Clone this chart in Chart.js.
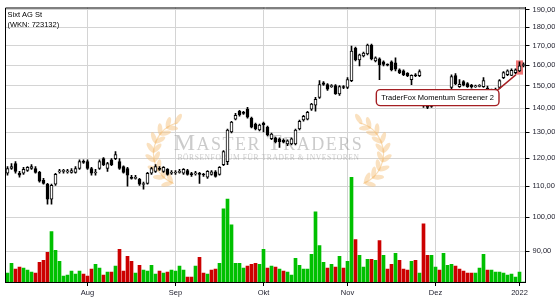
<!DOCTYPE html>
<html>
<head>
<meta charset="utf-8">
<script src="https://cdn.jsdelivr.net/npm/chart.js@4.4.1/dist/chart.umd.min.js"></script>
<style>
  html, body { margin: 0; padding: 0; background: #fff; }
  #wrap { width: 555px; height: 300px; position: relative; }
</style>
</head>
<body>
<div id="wrap"><canvas id="kursChart"></canvas></div>
<script>
// Handelstage ab 05.07.2021 (Xetra, ohne 24.12. und 31.12.)
const startDate = '2021-07-05';
const holidays = ['2021-12-24', '2021-12-31'];
const monthNames = ['Jan', 'Feb', 'Mär', 'Apr', 'Mai', 'Jun', 'Jul', 'Aug', 'Sep', 'Okt', 'Nov', 'Dez'];
const priceTicks = [90, 100, 110, 120, 130, 140, 150, 160, 170, 180, 190];

const opens = [
  114.5, 116.2, 118.0, 114.5, 114.5, 115.5, 116.2, 116.2, 114.8, 112.0,
  110.7, 105.7, 110.7, 115.0, 115.2, 115.0, 114.8, 114.8, 116.2, 118.8,
  118.7, 116.2, 114.6, 116.2, 119.8, 116.2, 119.4, 119.8, 118.7, 116.9,
  116.2, 113.1, 112.7, 112.4, 110.6, 111.0, 114.5, 115.2, 116.2, 115.2,
  115.9, 114.5, 114.6, 114.8, 114.5, 115.5, 114.1, 114.3, 114.3, 114.1,
  113.1, 114.1, 115.0, 114.1, 117.6, 118.7, 130.1, 135.4, 138.7, 138.3,
  139.6, 135.8, 133.3, 130.9, 133.7, 132.1, 127.4, 127.8, 127.4, 126.8,
  125.4, 125.4, 125.4, 131.3, 135.0, 135.4, 139.6, 141.4, 144.8, 151.5,
  150.6, 149.7, 150.2, 146.3, 149.5, 149.3, 152.5, 168.7, 162.6, 164.6,
  165.6, 170.2, 162.1, 163.1, 161.6, 160.3, 161.6, 161.1, 157.7, 157.2,
  156.0, 153.0, 155.0, 154.9, 146.1, 142.6, 140.8, 142.6, 144.3, 143.9,
  147.0, 149.3, 154.9, 149.7, 152.0, 151.1, 150.4, 149.6, 149.8, 149.7,
  149.0, 147.5, 148.0, 149.3, 153.9, 155.3, 155.0, 156.3, 157.2, 159.8
];
const highs = [
  116.9, 118.0, 118.7, 115.2, 116.6, 116.9, 117.6, 116.9, 115.2, 112.7,
  111.0, 110.7, 114.5, 115.9, 115.9, 115.9, 116.2, 116.9, 119.4, 119.4,
  119.4, 116.6, 115.9, 119.4, 120.2, 118.4, 119.8, 122.4, 119.8, 117.2,
  116.6, 113.8, 113.8, 112.7, 111.4, 114.8, 116.6, 117.6, 116.9, 116.9,
  116.2, 115.5, 115.5, 115.9, 116.2, 115.9, 114.8, 115.2, 114.8, 114.5,
  115.5, 115.5, 115.5, 116.9, 122.8, 131.3, 134.5, 137.8, 139.1, 138.7,
  140.4, 136.2, 133.7, 133.3, 134.1, 132.5, 129.7, 128.1, 127.8, 127.4,
  127.0, 127.8, 131.3, 135.0, 137.0, 138.7, 142.2, 144.8, 152.5, 152.0,
  151.1, 150.6, 150.6, 150.2, 150.2, 153.9, 169.7, 169.2, 165.6, 166.6,
  170.8, 170.8, 164.1, 163.6, 162.1, 160.6, 162.1, 163.6, 158.2, 157.7,
  156.3, 155.3, 155.8, 157.7, 147.9, 143.4, 143.4, 144.8, 145.0, 147.5,
  148.4, 155.3, 155.8, 153.0, 152.5, 151.6, 150.8, 150.4, 150.6, 153.9,
  150.0, 148.6, 149.0, 153.0, 156.8, 157.7, 158.2, 158.2, 161.6, 161.1
];
const lows = [
  113.8, 115.9, 114.5, 113.1, 114.1, 115.2, 115.9, 114.5, 111.4, 110.7,
  104.1, 104.1, 110.3, 114.5, 114.5, 114.5, 114.5, 114.5, 115.9, 118.0,
  115.9, 113.8, 113.8, 115.9, 117.2, 115.2, 117.2, 119.4, 115.9, 114.5,
  110.0, 112.4, 112.4, 110.3, 109.0, 110.7, 114.1, 114.8, 115.5, 114.8,
  113.8, 114.1, 114.1, 114.5, 114.1, 113.8, 113.4, 113.8, 111.0, 113.4,
  112.7, 113.8, 113.1, 113.8, 117.2, 117.6, 129.7, 135.0, 136.6, 137.4,
  135.8, 131.7, 130.9, 130.5, 130.1, 128.5, 127.0, 125.8, 124.0, 125.8,
  124.7, 125.0, 125.0, 130.9, 134.5, 135.0, 139.1, 138.7, 144.3, 150.2,
  147.9, 149.3, 146.1, 145.7, 148.8, 148.8, 152.0, 162.1, 159.6, 164.1,
  165.1, 162.6, 161.6, 153.0, 159.6, 159.6, 157.2, 157.2, 155.8, 154.9,
  154.4, 150.6, 154.4, 154.4, 140.4, 139.8, 140.4, 142.2, 143.4, 143.4,
  146.6, 148.8, 150.6, 149.3, 150.0, 149.3, 149.0, 149.3, 149.5, 149.3,
  147.0, 147.0, 147.6, 148.8, 153.4, 154.9, 154.9, 155.8, 156.8, 159.1
];
const closes = [
  116.2, 116.9, 115.2, 113.8, 115.9, 116.6, 116.9, 114.8, 111.7, 111.0,
  105.7, 110.3, 114.1, 115.2, 115.3, 115.4, 115.5, 116.2, 118.7, 118.4,
  116.2, 114.5, 114.8, 118.7, 117.6, 118.0, 117.6, 121.3, 116.2, 114.8,
  113.8, 112.7, 113.1, 110.7, 110.8, 114.5, 116.2, 116.9, 115.9, 116.6,
  114.1, 114.8, 114.9, 115.2, 115.9, 114.1, 114.0, 114.5, 114.1, 113.9,
  115.2, 115.0, 113.4, 116.6, 122.4, 130.9, 134.1, 137.0, 137.2, 137.8,
  136.2, 132.1, 131.3, 132.9, 133.0, 128.9, 129.3, 126.2, 126.3, 126.1,
  126.6, 127.4, 130.9, 134.5, 136.6, 138.3, 141.8, 143.9, 150.6, 150.7,
  148.5, 150.0, 146.5, 149.7, 149.3, 153.0, 167.1, 162.6, 165.1, 166.1,
  170.2, 163.1, 163.6, 160.1, 160.3, 160.0, 157.7, 158.0, 156.3, 155.3,
  154.9, 155.0, 154.8, 156.8, 141.0, 140.4, 142.6, 144.3, 143.9, 147.0,
  148.0, 154.4, 151.1, 150.8, 150.4, 149.7, 149.5, 149.8, 150.2, 152.5,
  147.5, 148.0, 148.5, 152.5, 156.3, 157.2, 157.4, 157.7, 159.6, 160.0
];
// Volumen (Tsd. Stueck, geschaetzt)
const volumes = [
  9, 19, 13, 15, 14, 12, 10, 9, 20, 22,
  30, 51, 32, 21, 6, 7, 11, 8, 11, 8,
  6, 13, 18, 14, 7, 10, 10, 16, 33, 11,
  26, 21, 9, 17, 12, 11, 17, 8, 11, 9,
  10, 12, 11, 16, 12, 5, 5, 16, 25, 9,
  8, 12, 13, 19, 74, 84, 58, 19, 19, 14,
  16, 18, 19, 18, 33, 14, 16, 15, 13, 11,
  10, 7, 24, 17, 13, 13, 28, 71, 37, 20,
  14, 18, 15, 26, 14, 21, 106, 43, 27, 15,
  23, 23, 22, 42, 27, 13, 18, 29, 22, 13,
  12, 21, 22, 9, 59, 27, 27, 15, 12, 29,
  17, 18, 16, 13, 11, 9, 9, 9, 14, 28,
  12, 12, 10, 10, 9, 7, 8, 5, 10, 0
];
const signalIndex = 128;
const signalText = 'TraderFox Momentum Screener 2';

function buildDates(n) {
  const out = [];
  const d = new Date(startDate + 'T00:00:00Z');
  while (out.length < n) {
    const iso = d.toISOString().slice(0, 10);
    const wd = d.getUTCDay();
    if (wd !== 0 && wd !== 6 && !holidays.includes(iso)) out.push(iso);
    d.setUTCDate(d.getUTCDate() + 1);
  }
  return out;
}

const dates = buildDates(opens.length);
const monthStart = dates.map((d, i) => i > 0 && d.slice(5, 7) !== dates[i - 1].slice(5, 7));

function tickLabel(i) {
  const m = parseInt(dates[i].slice(5, 7), 10) - 1;
  return m === 0 ? dates[i].slice(0, 4) : monthNames[m];
}

const gridGrey = '#d4d4d4';
const volColors = closes.map((c, i) => {
  const ref = i === 0 ? opens[0] : closes[i - 1];
  return c >= ref ? '#00c000' : '#cc0000';
});

Chart.defaults.font.family = '"Liberation Sans", Arial, sans-serif';
Chart.defaults.font.size = 7.5;
Chart.defaults.color = '#1c1c2a';

function drawLaurel(ctx, cx, cy, r, dir) {
  ctx.save();
  ctx.translate(cx, cy);
  ctx.scale(dir, 1);
  ctx.fillStyle = 'rgba(245,196,130,0.5)';
  ctx.strokeStyle = 'rgba(245,196,130,0.6)';
  ctx.lineWidth = 1.2;
  ctx.beginPath();
  ctx.arc(0, 0, r, Math.PI * 0.62, Math.PI * 1.42);
  ctx.stroke();
  for (let k = 0; k < 9; k++) {
    const a = Math.PI * (0.64 + k * 0.095);
    const px = r * Math.cos(a), py = r * Math.sin(a);
    const t = a + Math.PI / 2;
    [t - 0.7, t + 0.7].forEach((th, j) => {
      if (j === 1 && k > 7) return;
      const lx = px + 5 * Math.cos(th), ly = py + 5 * Math.sin(th);
      ctx.beginPath();
      ctx.ellipse(lx, ly, 6, 2.4, th, 0, Math.PI * 2);
      ctx.fill();
    });
  }
  ctx.restore();
}

function drawPieces(ctx, pieces, cx, baseline, spacing) {
  ctx.letterSpacing = spacing + 'px';
  let total = 0;
  pieces.forEach(p => {
    ctx.font = p[1] + 'px "Liberation Serif", serif';
    total += ctx.measureText(p[0]).width;
  });
  let x = cx - total / 2;
  pieces.forEach(p => {
    ctx.font = p[1] + 'px "Liberation Serif", serif';
    ctx.fillText(p[0], x, baseline);
    x += ctx.measureText(p[0]).width;
  });
  ctx.letterSpacing = '0px';
}

const chartDecor = {
  id: 'chartDecor',
  beforeDatasetsDraw(chart) {
    const { ctx, chartArea: a, scales } = chart;
    const cx = (a.left + a.right) / 2 + 3;
    const cy = (a.top + a.bottom) / 2;
    ctx.save();
    // Wasserzeichen
    drawLaurel(ctx, cx - 83, cy + 9, 32, 1);
    drawLaurel(ctx, cx + 83, cy + 9, 32, -1);
    ctx.fillStyle = 'rgba(140,140,140,0.45)';
    ctx.textAlign = 'left';
    ctx.textBaseline = 'alphabetic';
    drawPieces(ctx, [['M', 24], ['ASTER', 18], [' ', 18], ['T', 24], ['RADERS', 18]], cx, cy + 5, 1.5);
    drawPieces(ctx, [['BÖRSENFORUM FÜR TRADER & INVESTOREN', 7.5]], cx, cy + 15.5, 0.6);

    // Signal-Markierung
    const x = scales.x.getPixelForValue(signalIndex);
    const yTop = scales.y.getPixelForValue(highs[signalIndex]) - 1.5;
    const yBot = scales.y.getPixelForValue(lows[signalIndex]) + 3;
    ctx.fillStyle = 'rgba(240,96,96,0.85)';
    ctx.fillRect(x - 3.5, yTop, 7, yBot - yTop);
    ctx.restore();
  },
  afterDatasetsDraw(chart) {
    const { ctx, chartArea: a, scales } = chart;
    ctx.save();
    // Rahmen links / oben
    ctx.strokeStyle = '#000';
    ctx.lineWidth = 1;
    ctx.beginPath();
    ctx.moveTo(a.left, a.bottom);
    ctx.lineTo(a.left, a.top + 0.5);
    ctx.lineTo(a.right, a.top + 0.5);
    ctx.stroke();

    // Titel
    ctx.fillStyle = '#000';
    ctx.font = '7.5px "Liberation Sans", Arial, sans-serif';
    ctx.textAlign = 'left';
    ctx.textBaseline = 'alphabetic';
    ctx.fillText('Sixt AG St', a.left + 2, a.top + 9);
    ctx.fillText('(WKN: 723132)', a.left + 2, a.top + 19);

    // Signal-Label
    const x = scales.x.getPixelForValue(signalIndex);
    const yBot = scales.y.getPixelForValue(lows[signalIndex]) + 3;
    const tw = ctx.measureText(signalText).width;
    const bw = tw + 10, bh = 16;
    const bx = x - 3.5 - 17 - bw, by = yBot + 15;
    ctx.strokeStyle = '#a41e22';
    ctx.lineWidth = 1.4;
    ctx.beginPath();
    ctx.moveTo(bx + bw - 2, by + 1);
    ctx.lineTo(x - 3.5, yBot);
    ctx.stroke();
    ctx.beginPath();
    ctx.roundRect(bx, by, bw, bh, 4);
    ctx.fillStyle = '#fff';
    ctx.fill();
    ctx.stroke();
    ctx.fillStyle = '#000';
    ctx.textAlign = 'center';
    ctx.textBaseline = 'middle';
    ctx.fillText(signalText, bx + bw / 2, by + bh / 2 + 0.5);
    ctx.restore();
  }
};

const ctx = document.getElementById('kursChart').getContext('2d');
const kursChart = new Chart(ctx, {
  type: 'bar',
  data: {
    labels: dates,
    datasets: [
      {
        label: 'Kerze',
        data: opens.map((o, i) => [o, closes[i]]),
        backgroundColor: opens.map((o, i) => closes[i] >= o ? '#fff' : '#000'),
        borderColor: '#000',
        borderWidth: 1,
        borderSkipped: false,
        barThickness: 3,
        minBarLength: 1,
        grouped: false,
        order: 1
      },
      {
        label: 'Docht',
        data: lows.map((l, i) => [l, highs[i]]),
        backgroundColor: '#000',
        barThickness: 1,
        grouped: false,
        order: 2
      },
      {
        label: 'Volumen',
        yAxisID: 'vol',
        data: volumes,
        backgroundColor: volColors,
        barThickness: 3,
        grouped: false,
        order: 3
      }
    ]
  },
  options: {
    responsive: true,
    maintainAspectRatio: false,
    animation: false,
    layout: { padding: { left: 5.5, top: 4, right: 0, bottom: 0 } },
    plugins: {
      legend: { display: false },
      tooltip: { enabled: false }
    },
    scales: {
      x: {
        type: 'category',
        offset: true,
        grid: {
          offset: false,
          color: c => monthStart[c.index] ? gridGrey : 'rgba(0,0,0,0)',
          tickColor: c => monthStart[c.index] ? '#000' : 'rgba(0,0,0,0)',
          tickLength: 4
        },
        border: { display: true, color: '#000' },
        ticks: {
          autoSkip: false,
          maxRotation: 0,
          minRotation: 0,
          padding: 2,
          callback: function(value, index) {
            return monthStart[index] ? tickLabel(index) : '';
          }
        },
        afterFit: s => { s.height = 18; }
      },
      y: {
        type: 'logarithmic',
        position: 'right',
        min: 81.8,
        max: 191.2,
        afterBuildTicks: s => { s.ticks = priceTicks.map(v => ({ value: v })); },
        grid: { color: gridGrey, tickColor: '#000', tickLength: 4 },
        border: { display: true, color: '#000' },
        ticks: {
          padding: 3,
          callback: v => v.toFixed(2).replace('.', ',')
        },
        afterFit: s => { s.width = 29.5; }
      },
      vol: {
        type: 'linear',
        display: false,
        min: 0,
        max: 278
      }
    }
  },
  plugins: [chartDecor]
});
</script>
</body>
</html>
